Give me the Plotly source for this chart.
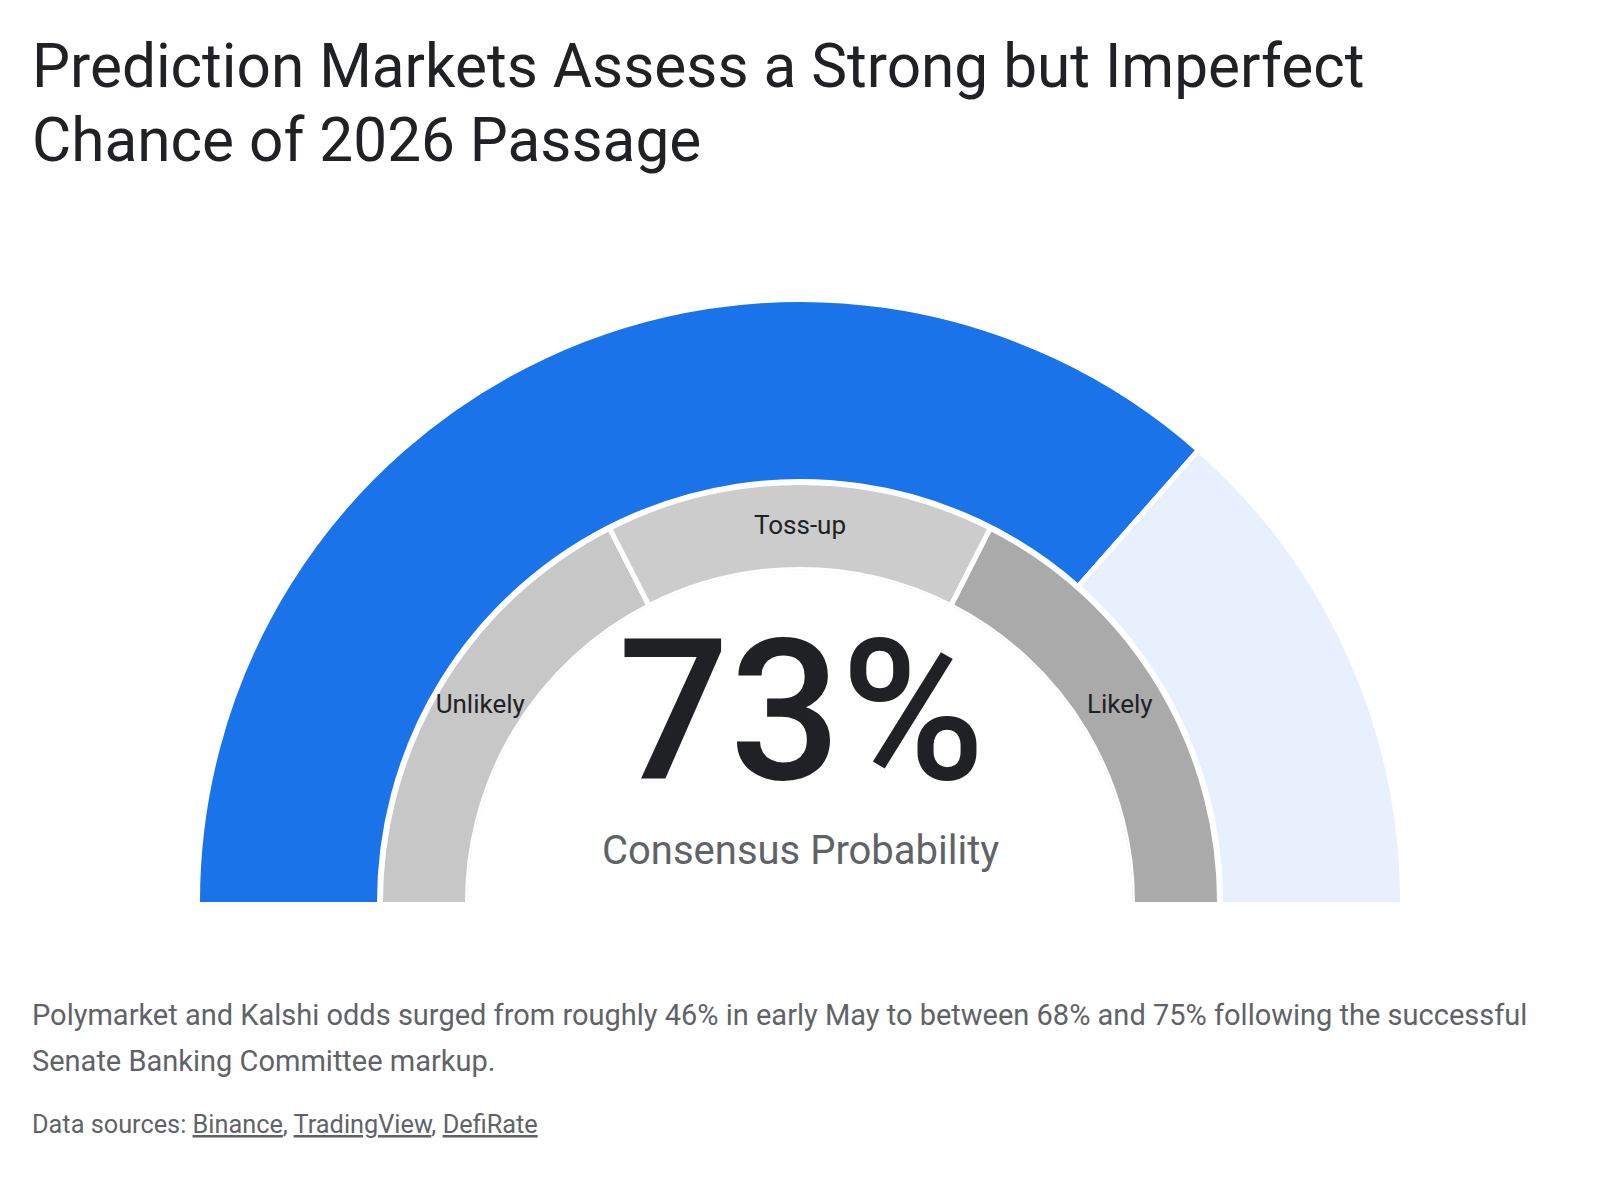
import plotly.graph_objects as go

# ---------------- data ----------------
title_lines = [
    "Prediction Markets Assess a Strong but Imperfect",
    "Chance of 2026 Passage",
]
probability = 73
outer_labels = ["Consensus probability", "Remaining"]
outer_values = [73, 27]
band_labels = ["Unlikely", "Toss-up", "Likely"]
band_values = [35, 30, 35]
subtitle = "Consensus Probability"
note_lines = [
    "Polymarket and Kalshi odds surged from roughly 46% in early May to between 68% and 75% following the successful",
    "Senate Banking Committee markup.",
]
source_names = ["Binance", "TradingView", "DefiRate"]

# ---------------- styling ----------------
W, H = 1600, 1200
FONT = "Roboto"
DARK = "#202124"
GRAY = "#5f6368"
outer_colors = ["#1a73e8", "#e8f0fe"]
band_colors = ["#c6c7c6", "#cccccc", "#aaaaaa"]
STROKE = 5
PAD = 1.5  # degrees of overshoot at the flat ends (clipped by the sector)

CX, CY, RMAX = 800, 902, 604
HOLE_R = 332.5


def arcs(values, pad=PAD):
    deg = 180.0 / sum(values)
    edges = [0.0]
    for v in values:
        edges.append(edges[-1] + v * deg)
    edges[0] -= pad
    edges[-1] += pad
    centers = [(a + b) / 2 for a, b in zip(edges[:-1], edges[1:])]
    widths = [b - a for a, b in zip(edges[:-1], edges[1:])]
    return centers, widths


def mids(values):
    deg = 180.0 / sum(values)
    out, start = [], 0.0
    for v in values:
        out.append(start + v * deg / 2)
        start += v * deg
    return out


def px(x):
    return x / W


def py(y):
    return 1 - y / H


fig = go.Figure()

oc, ow = arcs(outer_values)
fig.add_trace(go.Barpolar(
    theta=oc, width=ow, r=[602.5 - 420.5] * len(outer_values), base=420.5,
    marker=dict(color=outer_colors, line=dict(color="white", width=STROKE)),
    text=outer_labels, hoverinfo="skip", showlegend=False,
))

bc, bw = arcs(band_values)
fig.add_trace(go.Barpolar(
    theta=bc, width=bw, r=[419.5 - 332.5] * len(band_values), base=332.5,
    marker=dict(color=band_colors, line=dict(color="white", width=STROKE)),
    hoverinfo="skip", showlegend=False,
))

fig.add_trace(go.Scatterpolar(
    theta=mids(band_values), r=[375] * len(band_values), mode="text", text=band_labels,
    textfont=dict(family=FONT, size=26, color=DARK),
    textposition="middle center", hoverinfo="skip", showlegend=False, cliponaxis=False,
))

fig.update_layout(
    width=W, height=H,
    margin=dict(l=0, r=0, t=0, b=0),
    paper_bgcolor="white",
    plot_bgcolor="white",
    polar=dict(
        domain=dict(x=[px(CX - RMAX), px(CX + RMAX)], y=[py(CY), py(CY - RMAX)]),
        sector=[0, 180],
        hole=HOLE_R / RMAX,
        bgcolor="rgba(0,0,0,0)",
        radialaxis=dict(range=[HOLE_R, RMAX], visible=False),
        angularaxis=dict(direction="clockwise", rotation=180, visible=False),
        barmode="overlay",
    ),
)

ann = []
for text, yc in zip(title_lines, [67, 140]):
    ann.append(dict(text=text, x=px(30), y=py(yc), xanchor="left", yanchor="middle",
                    font=dict(family=FONT, size=60.3, color=DARK)))
ann.append(dict(text=f"{probability}%", x=px(CX + 1), y=py(712), xanchor="center", yanchor="middle",
                font=dict(family=FONT, size=196, color=DARK, weight=500)))
ann.append(dict(text=subtitle, x=px(CX), y=py(851), xanchor="center", yanchor="middle",
                font=dict(family=FONT, size=40, color=GRAY)))
for text, yc in zip(note_lines, [1015, 1061]):
    ann.append(dict(text=text, x=px(30), y=py(yc), xanchor="left", yanchor="middle",
                    font=dict(family=FONT, size=29, color=GRAY)))
src = "Data sources: " + ", ".join(f"<u>{s}</u>" for s in source_names)
ann.append(dict(text=src, x=px(30), y=py(1124), xanchor="left", yanchor="middle",
                font=dict(family=FONT, size=25.3, color=GRAY)))
for a in ann:
    a.update(xref="paper", yref="paper", showarrow=False)
fig.update_layout(annotations=ann)

fig.write_html("out.html")
